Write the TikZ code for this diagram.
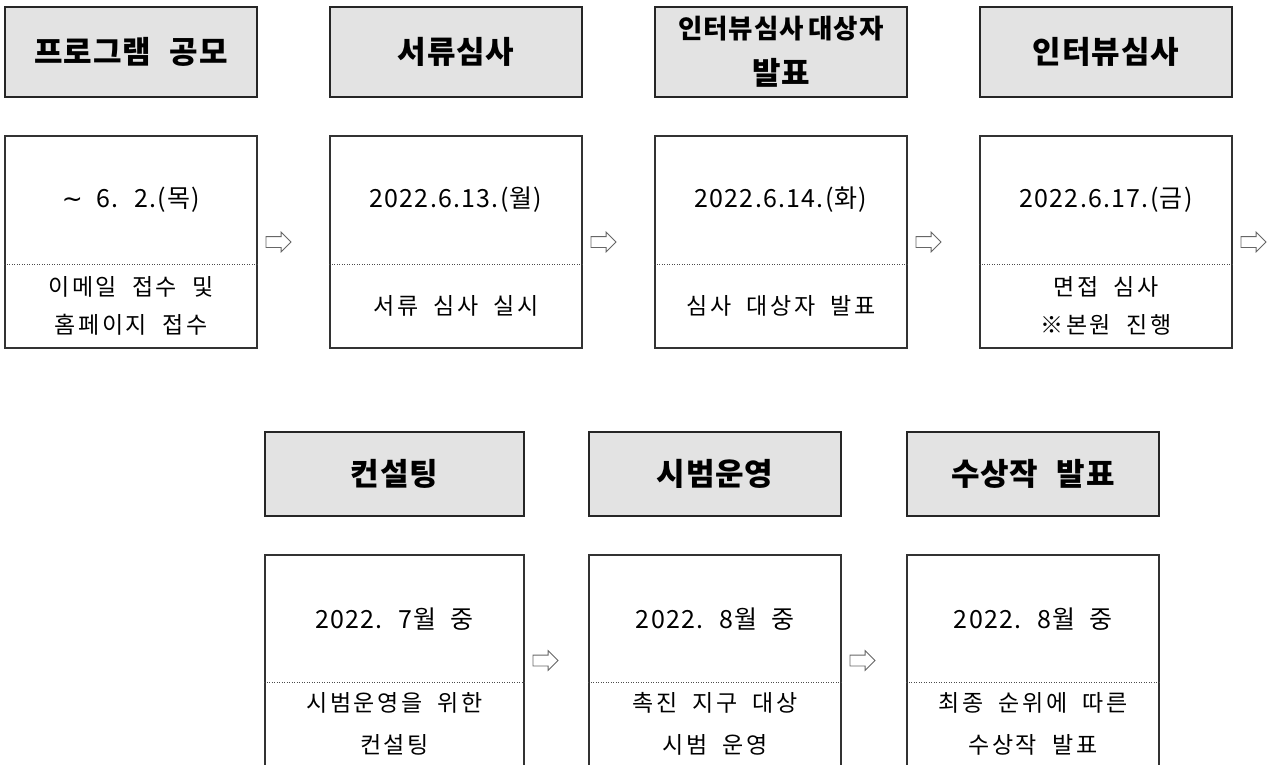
\documentclass[tikz,border=0pt]{standalone}
\usepackage{fontspec}
\setmainfont{Noto Sans CJK KR}
\newfontfamily\headfont{Noto Sans CJK KR}[LetterSpace=3,WordSpace=2.3]
\newfontfamily\symfont{DejaVu Sans}
\newfontfamily\datefont{Noto Sans CJK KR}[LetterSpace=5,WordSpace=2]
\newfontfamily\bodyfont{Noto Sans CJK KR}[LetterSpace=11,WordSpace=2]
\usepackage{tikz}
\usetikzlibrary{shapes.arrows}

\begin{document}
\begin{tikzpicture}[x=1pt,y=-1pt,
    headbox/.style={draw=black!85,line width=1.6pt,fill=black!11,
      minimum width=252pt,minimum height=90pt,inner sep=0pt,align=center,
      font=\headfont\bfseries\fontsize{31}{46}\selectfont},
    stepbox/.style={draw=black!80,line width=1.2pt,
      minimum width=252pt,minimum height=212pt,inner sep=0pt},
    datetext/.style={inner sep=0pt,font=\datefont\fontsize{25}{30}\selectfont},
    desctext/.style={inner sep=0pt,align=center,
      font=\bodyfont\fontsize{23}{#1}\selectfont},
    desctext/.default=38,
    divline/.style={draw=black!70,line width=0.9pt,dash pattern=on 1pt off 1.5pt},
    nextarrow/.style={single arrow,draw=black!60,fill=white,line width=0.8pt,
      inner xsep=0pt,inner ysep=5pt,single arrow head extend=4.5pt,
      minimum height=25pt,anchor=tail}]
  \useasboundingbox (0,0) rectangle (1271,764);

  % first row
  \node[headbox] (h1) at (131,52) {프로그램 공모};
  \node[headbox] (h2) at (456,52) {서류심사};
  \node[headbox] (h3) at (781,52)
    {{\fontsize{26.5}{46}\selectfont 인터뷰심사\hspace{5pt}대상자}\\발표};
  \node[headbox] (h4) at (1106,52) {인터뷰심사};

  \node[stepbox] (b1) at (131,242) {};
  \node[stepbox] (b2) at (456,242) {};
  \node[stepbox] (b3) at (781,242) {};
  \node[stepbox] (b4) at (1106,242) {};

  \node[datetext] (d1) at (131,200) {{\symfont ∼} 6. 2.(목)};
  \node[datetext] (d2) at (456,200) {2022.6.13.(월)};
  \node[datetext] (d3) at (781,200) {2022.6.14.(화)};
  \node[datetext] (d4) at (1106,200) {2022.6.17.(금)};

  \node[desctext] (t1) at (131,306) {이메일 접수 및\\홈페이지 접수};
  \node[desctext] (t2) at (456,306) {서류 심사 실시};
  \node[desctext] (t3) at (781,306) {심사 대상자 발표};
  \node[desctext] (t4) at (1106,306) {면접 심사\\※본원 진행};

  \draw[divline] ([yshift=-22pt]b1.west) -- ([yshift=-22pt]b1.east);
  \draw[divline] ([yshift=-22pt]b2.west) -- ([yshift=-22pt]b2.east);
  \draw[divline] ([yshift=-22pt]b3.west) -- ([yshift=-22pt]b3.east);
  \draw[divline] ([yshift=-22pt]b4.west) -- ([yshift=-22pt]b4.east);

  \node[nextarrow] (r1) at ([xshift=8pt]b1.east) {};
  \node[nextarrow] (r2) at ([xshift=8pt]b2.east) {};
  \node[nextarrow] (r3) at ([xshift=8pt]b3.east) {};
  \node[nextarrow] (r4) at ([xshift=8pt]b4.east) {};

  % second row
  \node[headbox,minimum width=259pt,minimum height=84pt] (h5) at (394.5,474) {컨설팅};
  \node[headbox,minimum height=84pt] (h6) at (715,474) {시범운영};
  \node[headbox,minimum height=84pt] (h7) at (1033,474) {수상작 발표};

  \node[stepbox,minimum width=259pt,minimum height=211pt] (b5) at (394.5,660.5) {};
  \node[stepbox,minimum height=211pt] (b6) at (715,660.5) {};
  \node[stepbox,minimum height=211pt] (b7) at (1033,660.5) {};

  \node[datetext] (d5) at (394.5,619) {2022. 7월 중};
  \node[datetext] (d6) at (715,619) {2022. 8월 중};
  \node[datetext] (d7) at (1033,619) {2022. 8월 중};

  \node[desctext=42] (t5) at (394.5,724) {시범운영을 위한\\컨설팅};
  \node[desctext=42] (t6) at (715,724) {촉진 지구 대상\\시범 운영};
  \node[desctext=42] (t7) at (1033,724) {최종 순위에 따른\\수상작 발표};

  \draw[divline] ([yshift=-21.5pt]b5.west) -- ([yshift=-21.5pt]b5.east);
  \draw[divline] ([yshift=-21.5pt]b6.west) -- ([yshift=-21.5pt]b6.east);
  \draw[divline] ([yshift=-21.5pt]b7.west) -- ([yshift=-21.5pt]b7.east);

  \node[nextarrow] (r5) at ([xshift=8pt]b5.east) {};
  \node[nextarrow] (r6) at ([xshift=8pt]b6.east) {};
\end{tikzpicture}
\end{document}
